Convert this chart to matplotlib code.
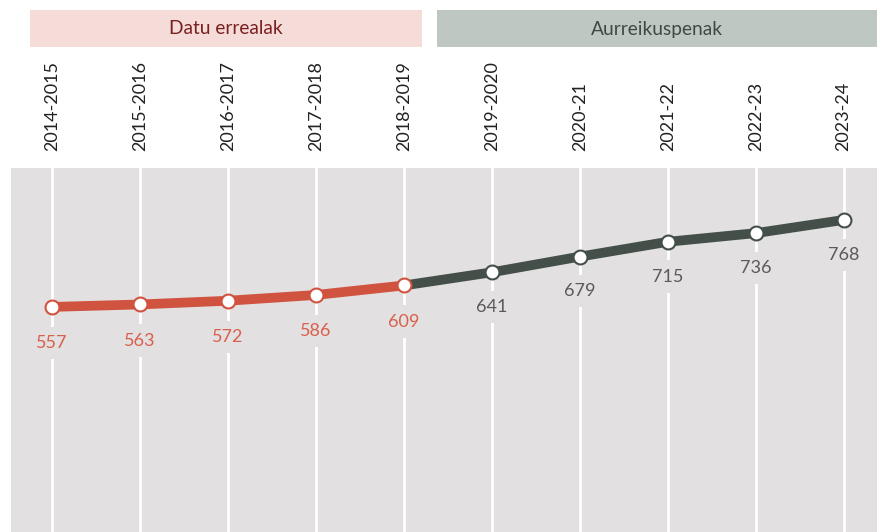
import matplotlib.pyplot as plt
from matplotlib.patches import Rectangle

years = ['2014-2015', '2015-2016', '2016-2017', '2017-2018', '2018-2019',
         '2019-2020', '2020-21', '2021-22', '2022-23', '2023-24']
actual = [557, 563, 572, 586, 609]
forecast = [609, 641, 679, 715, 736, 768]

plt.rcParams['font.family'] = ['Lato', 'DejaVu Sans']

red = '#d0533f'
dark = '#454f4a'
bg = '#e2e0e1'

fig = plt.figure(figsize=(8.78, 5.32), dpi=100)
ax = fig.add_axes([11 / 878, 0, 1 - 11 / 878, 364 / 532])
ax.set_facecolor(bg)

x_act = list(range(len(actual)))
x_fc = list(range(len(actual) - 1, len(years)))

for i in range(len(years)):
    ax.axvline(i, color='white', lw=2, zorder=1)

ax.plot(x_fc, forecast, color=dark, lw=7, solid_capstyle='butt', zorder=3)
ax.plot(x_act, actual, color=red, lw=7, solid_capstyle='butt', zorder=3)
ax.plot(x_fc[1:], forecast[1:], 'o', ms=10, mfc='white', mec=dark, mew=1.5, zorder=4)
ax.plot(x_act, actual, 'o', ms=10, mfc='white', mec=red, mew=1.5, zorder=4)

for i, v in zip(x_act, actual):
    ax.annotate(str(v), (i, v), xytext=(0, -26), textcoords='offset points',
                ha='center', va='center', fontsize=13, color='#d9604c', zorder=5,
                bbox=dict(boxstyle='square,pad=0.45', fc=bg, ec='none'))
for i, v in zip(x_fc[1:], forecast[1:]):
    ax.annotate(str(v), (i, v), xytext=(0, -25), textcoords='offset points',
                ha='center', va='center', fontsize=13, color='#5a5a5a', zorder=5,
                bbox=dict(boxstyle='square,pad=0.45', fc=bg, ec='none'))

ax.set_xlim(-0.466, 9.39)
ax.set_ylim(11, 894)
ax.set_yticks([])
ax.xaxis.tick_top()
ax.set_xticks(range(len(years)))
ax.set_xticklabels(years, rotation=90, fontsize=13, color='#222222')
ax.tick_params(axis='x', length=0, pad=12)
for s in ax.spines.values():
    s.set_visible(False)

# header boxes
fig.patches.append(Rectangle((30 / 878, 1 - 47 / 532), 392 / 878, 37 / 532,
                             transform=fig.transFigure, fc='#f5dcd9', ec='none'))
fig.patches.append(Rectangle((437 / 878, 1 - 47 / 532), 441 / 878, 37 / 532,
                             transform=fig.transFigure, fc='#bfc7c2', ec='none'))
fig.text(226 / 878, 1 - 29 / 532, 'Datu errealak', ha='center', va='center',
         fontsize=13.8, color='#7a1f1f')
fig.text(657 / 878, 1 - 29 / 532, 'Aurreikuspenak', ha='center', va='center',
         fontsize=13.8, color='#3f4a44')

fig.savefig('out.png', dpi=100)
